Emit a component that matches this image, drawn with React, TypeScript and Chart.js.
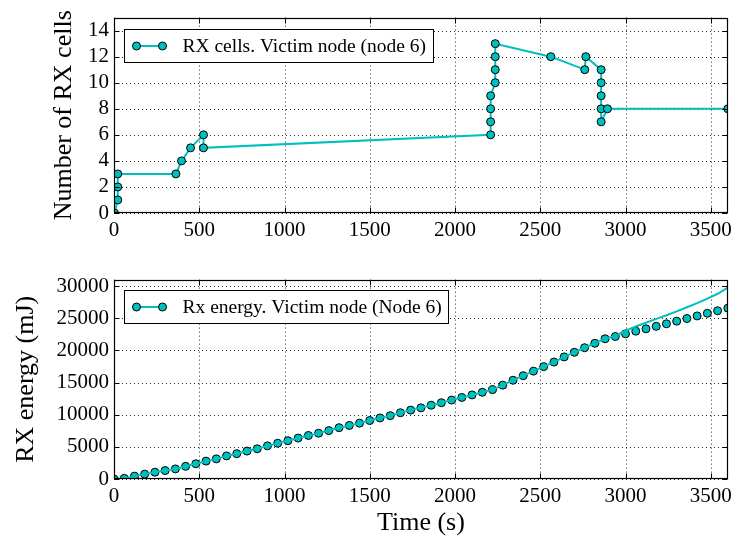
import React, { useEffect, useRef } from "react";
import { Chart, registerables } from "chart.js";

Chart.register(...registerables);

// ---------- Data ----------
const cellTimes = [3, 22, 22, 22, 363, 396, 449, 525, 525, 2209, 2209, 2209, 2209, 2236, 2236, 2236, 2236, 2562, 2761, 2767, 2857, 2857, 2857, 2857, 2857, 2894, 3600];
const cellCounts = [0, 1, 2, 3, 3, 4, 5, 6, 5, 6, 7, 8, 9, 10, 11, 12, 13, 12, 11, 12, 11, 10, 9, 8, 7, 8, 8];

const energyTimes = [0, 60, 120, 180, 240, 300, 360, 420, 480, 540, 600, 660, 720, 780, 840, 900, 960, 1020, 1080, 1140, 1200, 1260, 1320, 1380, 1440, 1500, 1560, 1620, 1680, 1740, 1800, 1860, 1920, 1980, 2040, 2100, 2160, 2220, 2280, 2340, 2400, 2460, 2520, 2580, 2640, 2700, 2760, 2820, 2880, 2940, 3000, 3060, 3120, 3180, 3240, 3300, 3360, 3420, 3480, 3540, 3600];
const energyMarkers = [0, 100, 450, 760, 1060, 1310, 1570, 1970, 2370, 2780, 3130, 3590, 3940, 4340, 4700, 5150, 5560, 5960, 6360, 6770, 7120, 7530, 7980, 8330, 8680, 9090, 9500, 9850, 10300, 10710, 11060, 11470, 11860, 12270, 12680, 13070, 13480, 13890, 14590, 15350, 16060, 16770, 17470, 18180, 18980, 19700, 20410, 21100, 21800, 22150, 22570, 22980, 23350, 23740, 24130, 24540, 24950, 25350, 25760, 26160, 26560];
const energyLine = [0, 100, 450, 760, 1060, 1310, 1570, 1970, 2370, 2780, 3130, 3590, 3940, 4340, 4700, 5150, 5560, 5960, 6360, 6770, 7120, 7530, 7980, 8330, 8680, 9090, 9500, 9850, 10300, 10710, 11060, 11470, 11860, 12270, 12680, 13070, 13480, 13890, 14590, 15350, 16060, 16770, 17470, 18180, 18980, 19700, 20410, 21100, 21800, 22250, 23050, 23700, 24300, 24900, 25450, 26050, 26700, 27350, 28050, 28800, 29750];

const xTicks = [0, 500, 1000, 1500, 2000, 2500, 3000, 3500];
const topYTicks = [0, 2, 4, 6, 8, 10, 12, 14];
const bottomYTicks = [0, 5000, 10000, 15000, 20000, 25000, 30000];

const topLegendLabel = "RX cells. Victim node (node 6)";
const bottomLegendLabel = "Rx energy. Victim node (Node 6)";

// ---------- Styles ----------
const CYAN = "#00BFBF";
const FONT = '"Liberation Serif", "Times New Roman", serif';

function drawLegend(chart: any, label: string, dy: number) {
  const { ctx, chartArea } = chart;
  const x0 = Math.round(chartArea.left + 10) + 0.5;
  const y0 = Math.round(chartArea.top + dy) + 0.5;
  ctx.save();
  ctx.font = `19.5px ${FONT}`;
  const tw = ctx.measureText(label).width;
  const w = Math.round(58 + tw + 7);
  const h = 33;
  ctx.fillStyle = "#fff";
  ctx.fillRect(x0, y0, w, h);
  ctx.strokeStyle = "#000";
  ctx.lineWidth = 1;
  ctx.strokeRect(x0, y0, w, h);
  const cy = y0 + h / 2;
  ctx.strokeStyle = CYAN;
  ctx.lineWidth = 2;
  ctx.beginPath();
  ctx.moveTo(x0 + 12, cy);
  ctx.lineTo(x0 + 38, cy);
  ctx.stroke();
  for (const mx of [x0 + 12, x0 + 38]) {
    ctx.beginPath();
    ctx.arc(mx, cy, 4, 0, Math.PI * 2);
    ctx.fillStyle = CYAN;
    ctx.fill();
    ctx.strokeStyle = "#000";
    ctx.lineWidth = 1;
    ctx.stroke();
  }
  ctx.fillStyle = "#000";
  ctx.textBaseline = "middle";
  ctx.textAlign = "left";
  ctx.fillText(label, x0 + 58, cy + 1);
  ctx.restore();
}

const frameGridPlugin = {
  id: "frameGrid",
  beforeDatasetsDraw(chart: any) {
    const { ctx, chartArea, scales } = chart;
    const { left, right, top, bottom } = chartArea;
    ctx.save();
    ctx.strokeStyle = "rgba(0,0,0,0.85)";
    ctx.lineWidth = 1;
    ctx.setLineDash([1, 3]);
    for (const t of scales.x.ticks) {
      const px = Math.round(scales.x.getPixelForValue(t.value)) + 0.5;
      ctx.beginPath();
      ctx.moveTo(px, top);
      ctx.lineTo(px, bottom);
      ctx.stroke();
    }
    for (const t of scales.y.ticks) {
      const py = Math.round(scales.y.getPixelForValue(t.value)) + 0.5;
      ctx.beginPath();
      ctx.moveTo(left, py);
      ctx.lineTo(right, py);
      ctx.stroke();
    }
    ctx.restore();
  },
  afterDatasetsDraw(chart: any) {
    const { ctx, chartArea, scales } = chart;
    const { left, right, top, bottom } = chartArea;
    const L = Math.round(left) + 0.5;
    const R = Math.round(right) - 0.5;
    const T = Math.round(top) + 0.5;
    const B = Math.round(bottom) - 0.5;
    ctx.save();
    ctx.strokeStyle = "#000";
    ctx.lineWidth = 1;
    const tl = 5;
    for (const t of scales.x.ticks) {
      const px = Math.round(scales.x.getPixelForValue(t.value)) + 0.5;
      ctx.beginPath();
      ctx.moveTo(px, B);
      ctx.lineTo(px, B - tl);
      ctx.moveTo(px, T);
      ctx.lineTo(px, T + tl);
      ctx.stroke();
    }
    for (const t of scales.y.ticks) {
      const py = Math.round(scales.y.getPixelForValue(t.value)) + 0.5;
      ctx.beginPath();
      ctx.moveTo(L, py);
      ctx.lineTo(L + tl, py);
      ctx.moveTo(R, py);
      ctx.lineTo(R - tl, py);
      ctx.stroke();
    }
    ctx.lineWidth = 1.2;
    ctx.strokeRect(L, T, R - L, B - T);
    ctx.restore();
    const label = chart.options.plugins.frameGrid?.label;
    const dy = chart.options.plugins.frameGrid?.legendDy ?? 11;
    if (label) drawLegend(chart, label, dy);
  },
};

function tickOpts() {
  return {
    color: "#000",
    font: { family: FONT, size: 21 },
    padding: 5,
    maxRotation: 0,
    autoSkip: false,
    callback: (v: any) => String(v),
  };
}

function xScale(height: number, title?: string) {
  return {
    type: "linear" as const,
    min: 0,
    max: 3600,
    afterFit: (s: any) => {
      s.height = height;
    },
    afterBuildTicks: (s: any) => {
      s.ticks = xTicks.map((v) => ({ value: v }));
    },
    grid: { display: false, drawTicks: false },
    border: { display: false },
    ticks: tickOpts(),
    title: title
      ? { display: true, text: title, color: "#000", font: { family: FONT, size: 26 }, padding: 0 }
      : { display: false },
  };
}

function yScale(width: number, max: number, ticks: number[], title: string) {
  return {
    type: "linear" as const,
    min: 0,
    max,
    afterFit: (s: any) => {
      s.width = width;
    },
    afterBuildTicks: (s: any) => {
      s.ticks = ticks.map((v) => ({ value: v }));
    },
    grid: { display: false, drawTicks: false },
    border: { display: false },
    ticks: tickOpts(),
    title: { display: true, text: title, color: "#000", font: { family: FONT, size: 26 }, padding: 0 },
  };
}

export default function App() {
  const topRef = useRef<HTMLCanvasElement>(null);
  const botRef = useRef<HTMLCanvasElement>(null);

  useEffect(() => {
    const top = new Chart(topRef.current!, {
      type: "line",
      data: {
        datasets: [
          {
            label: topLegendLabel,
            data: cellTimes.map((t, i) => ({ x: t, y: cellCounts[i] })),
            borderColor: CYAN,
            borderWidth: 2,
            backgroundColor: CYAN,
            pointBackgroundColor: CYAN,
            pointBorderColor: "#000",
            pointBorderWidth: 1,
            pointRadius: 4,
            tension: 0,
            clip: 0,
          },
        ],
      },
      options: {
        responsive: false,
        animation: false,
        devicePixelRatio: 1,
        events: [],
        layout: { padding: { left: 49, top: 7, right: 8, bottom: 0 } },
        scales: {
          x: xScale(49),
          y: yScale(65, 15, topYTicks, "Number of RX cells"),
        },
        plugins: {
          legend: { display: false },
          tooltip: { enabled: false },
          frameGrid: { label: topLegendLabel, legendDy: 11 },
        } as any,
      },
      plugins: [frameGridPlugin],
    });

    const bottom = new Chart(botRef.current!, {
      type: "line",
      data: {
        datasets: [
          {
            label: "line",
            data: energyTimes.map((t, i) => ({ x: t, y: energyLine[i] })),
            borderColor: CYAN,
            borderWidth: 2,
            pointRadius: 0,
            tension: 0,
            clip: 0,
          },
          {
            label: bottomLegendLabel,
            data: energyTimes.map((t, i) => ({ x: t, y: energyMarkers[i] })),
            showLine: false,
            borderColor: CYAN,
            backgroundColor: CYAN,
            pointBackgroundColor: CYAN,
            pointBorderColor: "#000",
            pointBorderWidth: 1,
            pointRadius: 4,
            clip: 0,
          },
        ],
      },
      options: {
        responsive: false,
        animation: false,
        devicePixelRatio: 1,
        events: [],
        layout: { padding: { left: 11, top: 12, right: 8, bottom: 5 } },
        scales: {
          x: xScale(60, "Time (s)"),
          y: yScale(103, 31000, bottomYTicks, "RX energy (mJ)"),
        },
        plugins: {
          legend: { display: false },
          tooltip: { enabled: false },
          frameGrid: { label: bottomLegendLabel, legendDy: 10 },
        } as any,
      },
      plugins: [frameGridPlugin],
    });

    return () => {
      top.destroy();
      bottom.destroy();
    };
  }, []);

  return (
    <div style={{ position: "absolute", left: 0, top: 0, width: 737, height: 544, background: "#fff" }}>
      <canvas
        ref={topRef}
        width={737}
        height={262}
        style={{ position: "absolute", left: 0, top: 0, width: 737, height: 262 }}
      />
      <canvas
        ref={botRef}
        width={737}
        height={282}
        style={{ position: "absolute", left: 0, top: 262, width: 737, height: 282 }}
      />
    </div>
  );
}
